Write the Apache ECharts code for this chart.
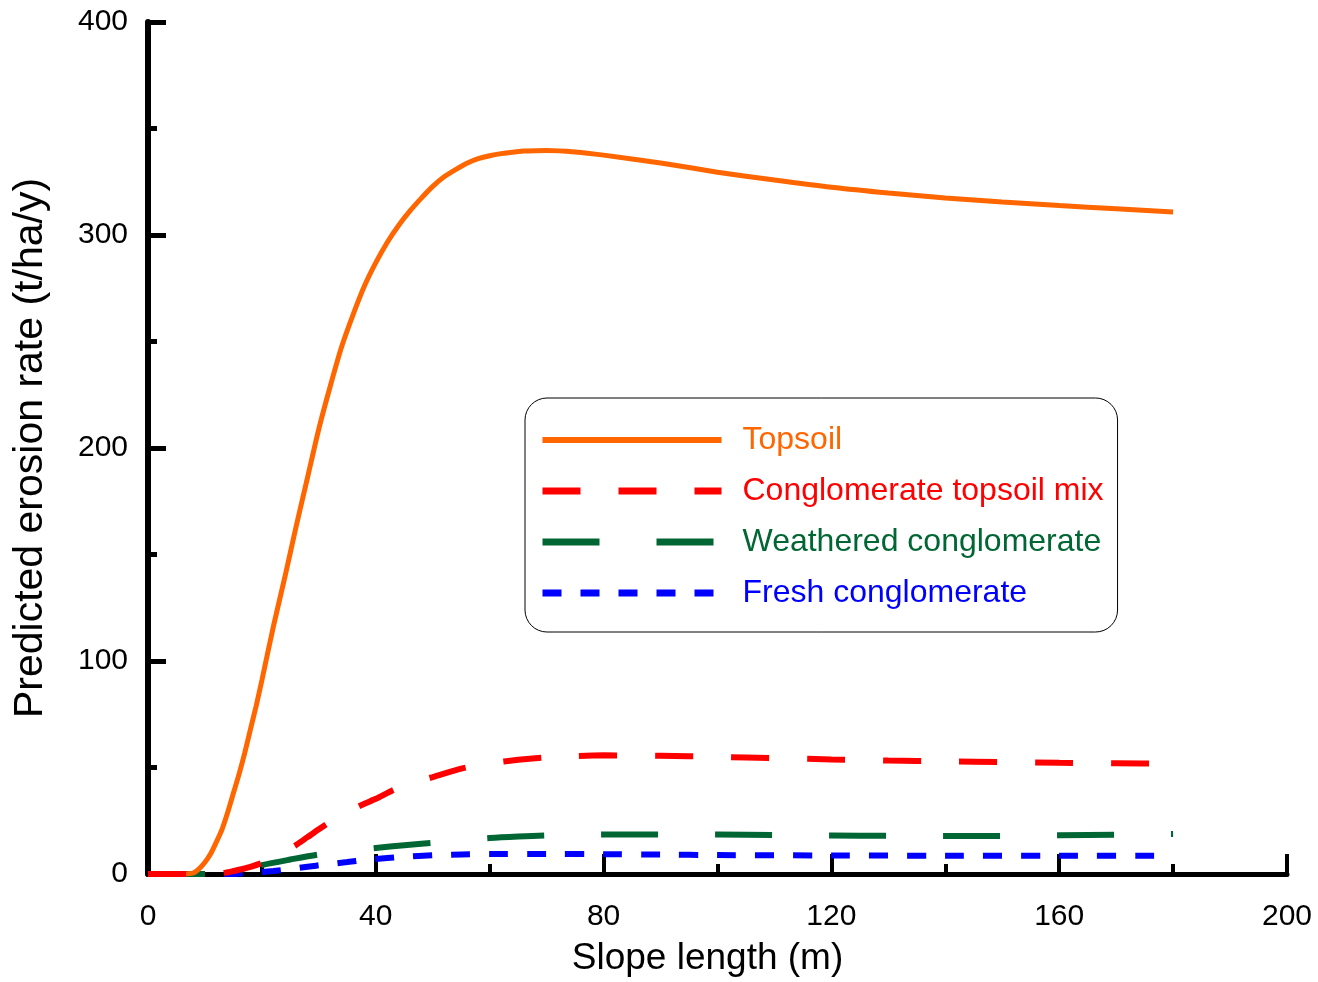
<!DOCTYPE html>
<html>
<head>
<meta charset="utf-8">
<script src="https://cdn.jsdelivr.net/npm/echarts@6/dist/echarts.min.js"></script>
<style>html,body{margin:0;padding:0;background:#fff;}#c{width:1318px;height:982px;}</style>
</head>
<body>
<div id="c"></div>
<script>
const seriesNames = ['Topsoil', 'Conglomerate topsoil mix', 'Weathered conglomerate', 'Fresh conglomerate'];
const seriesColors = ['#FF6600', '#FF0000', '#006633', '#0000FF'];

const topsoilX = [0,2,4,6,8,9,10,11,12,13,14,15,16,17,18,19,20,22,24,26,28,30,32,34,36,38,40,42,44,46,48,50,52,54,56,58,60,62,64,66,68,70,75,80,90,100,110,120,130,140,150,160,170,180];
const topsoilY = [0,0,0,0,0.5,2.5,5.5,9.5,15,21,29,38,47,57,68,79,91,116,139,163,186,209,229,247.5,262.5,276,287,296.5,304.5,311.3,317.3,322.8,327.3,330.7,333.7,335.8,337.2,338.2,338.9,339.4,339.6,339.7,339,337.5,333.8,329.5,325.8,322.4,319.7,317.4,315.5,313.8,312.3,310.8];

const mixX = [0,4,8,12,13,14,16,18,20,22,24,26,28,30,32,34,36,38,40,43,46,50,55,60,65,70,75,80,90,100,110,120,130,140,150,160,170,180];
const mixY = [0,0,0,0,0.2,0.8,2,3.4,5.2,7.8,10.5,13.6,17.3,21,24.5,27.8,30.5,33,35.3,39.3,42.5,45.5,49.5,52,53.6,54.8,55.4,55.7,55.5,55.0,54.4,53.8,53.3,52.9,52.6,52.2,52.0,51.8];

const weatheredX = [0,4,8,12,14,16,18,20,25,30,35,40,45,50,55,60,65,70,80,90,100,110,120,130,140,150,160,170,180];
const weatheredY = [0,0,0,0,0,1,2.6,4.2,6.8,9.2,10.8,12.2,13.5,14.6,15.8,16.9,17.6,18.1,18.6,18.6,18.5,18.3,18.1,17.9,17.8,17.9,18.2,18.4,18.8];

const freshX = [0,4,8,12,14,16,18,20,22,25,28,31,35,38,42,45,50,55,60,70,80,90,100,120,140,160,180];
const freshY = [0,0,0,0,0,0.2,0.5,0.9,1.4,2.3,3.4,4.4,5.6,6.6,7.5,8.1,8.8,9.2,9.4,9.4,9.3,9.1,8.9,8.7,8.6,8.6,8.6];

function pairs(xs, ys){ return xs.map((x,i)=>[x, ys[i]]); }

const FONT = 'Liberation Sans, Arial, sans-serif';
const chart = echarts.init(document.getElementById('c'), null, {renderer:'canvas'});

const dashes = ['solid', [38,38], [57,57], [19,19]];
const widths = [5, 6, 6, 6];
const legendWidths = [6, 7, 7, 7];
const zs = [4, 5, 3, 2];
const allData = [pairs(topsoilX, topsoilY), pairs(mixX, mixY), pairs(weatheredX, weatheredY), pairs(freshX, freshY)];

chart.setOption({
  backgroundColor: '#fff',
  animation: false,
  grid: {left: 148, right: 31, top: 22, bottom: 108, containLabel: false},
  legend: {
    orient: 'vertical',
    left: 525, top: 398,
    padding: [26, 14, 23, 14],
    itemGap: 19,
    itemWidth: 179,
    itemHeight: 7,
    borderColor: '#000',
    borderWidth: 1,
    borderRadius: 22,
    itemStyle: {opacity: 0},
    data: seriesNames.map((n, i) => ({
      name: n,
      textStyle: {color: seriesColors[i]},
      lineStyle: {color: seriesColors[i], width: legendWidths[i], type: dashes[i], cap: 'butt', opacity: 1},
      itemStyle: {opacity: 0}
    })),
    textStyle: {fontFamily: FONT, fontSize: 32, padding: [0,0,0,16]}
  },
  xAxis: {
    type: 'value', min: 0, max: 200, interval: 40,
    name: 'Slope length (m)', nameLocation: 'middle', nameGap: 66,
    nameTextStyle: {fontFamily: FONT, fontSize: 37, color: '#000', padding: [0, 20, 0, 0]},
    axisLine: {show: true, onZero: false, lineStyle: {color: '#000', width: 5}},
    axisTick: {show: true, inside: true, length: 20, lineStyle: {color: '#000', width: 4}},
    minorTick: {show: true, splitNumber: 2, length: 10, lineStyle: {color: '#000', width: 4}},
    axisLabel: {fontFamily: FONT, fontSize: 30, color: '#000', margin: 28},
    splitLine: {show: false}
  },
  yAxis: {
    type: 'value', min: 0, max: 400, interval: 100,
    name: 'Predicted erosion rate (t/ha/y)', nameLocation: 'middle', nameGap: 97,
    nameTextStyle: {fontFamily: FONT, fontSize: 41, color: '#000'},
    axisLine: {show: true, onZero: false, lineStyle: {color: '#000', width: 6}},
    axisTick: {show: true, inside: true, length: 18, lineStyle: {color: '#000', width: 5}},
    minorTick: {show: true, splitNumber: 2, length: 9, lineStyle: {color: '#000', width: 5}},
    axisLabel: {fontFamily: FONT, fontSize: 30, color: '#000', margin: 20},
    splitLine: {show: false}
  },
  series: seriesNames.map((name, i) => ({
    name: name,
    type: 'line',
    data: allData[i],
    z: zs[i],
    symbol: 'none',
    smooth: 0.25,
    color: seriesColors[i],
    lineStyle: {color: seriesColors[i], width: widths[i], type: dashes[i], cap: 'butt'}
  }))
});
</script>
</body>
</html>
